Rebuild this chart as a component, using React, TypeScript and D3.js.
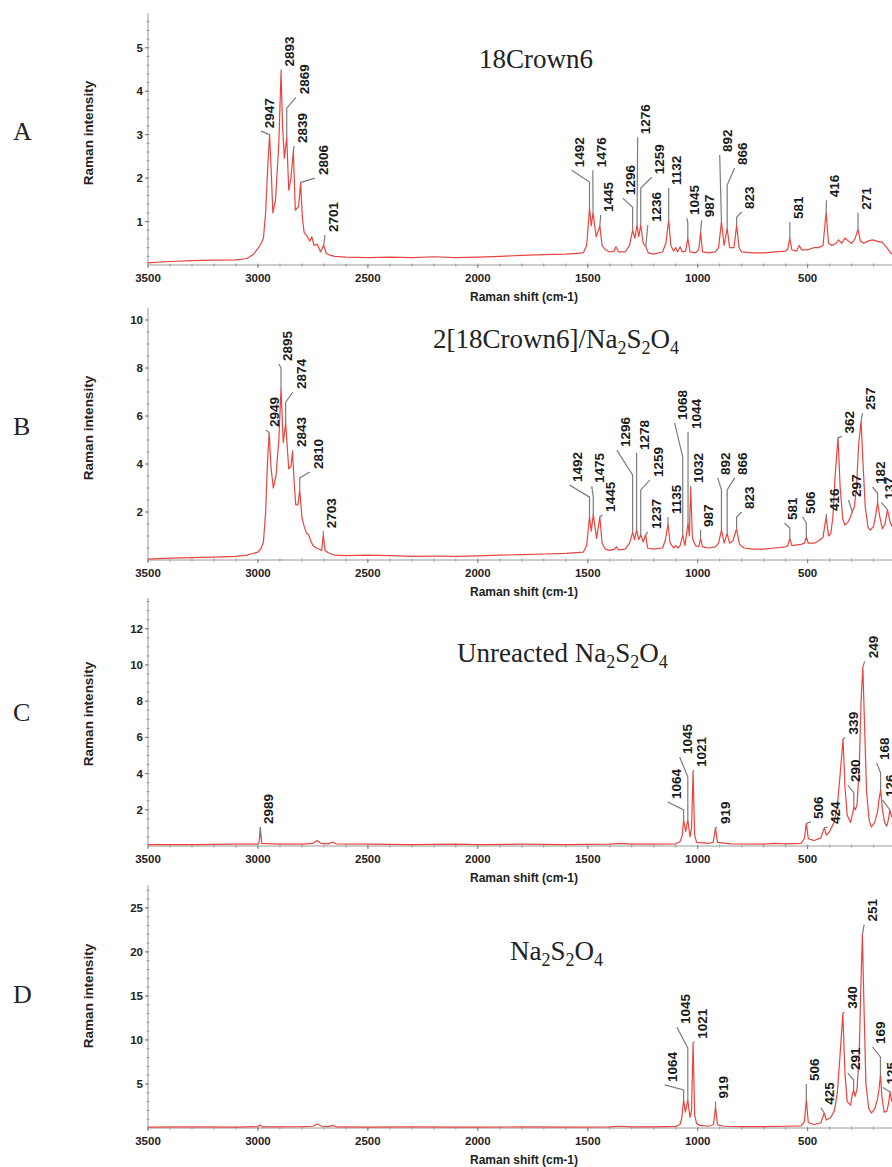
import * as d3 from "d3";

const W = 892;
const H = 1167;
const RED = "#e8453f";
const LEAD = "#7c7c7c";
const AXIS = "#9a9a9a";
const SANS = "'Liberation Sans', Arial, sans-serif";
const SERIF = "'Liberation Serif', 'Times New Roman', serif";

const xTicks = [3500, 3000, 2500, 2000, 1500, 1000, 500];

// spectra: [wavenumber, intensity]
const specA: [number, number][] = [
  [3500, 0.05], [3400, 0.08], [3300, 0.1], [3200, 0.11], [3100, 0.12], [3050, 0.15], [3020, 0.25], [3000, 0.38],
  [2985, 0.5], [2975, 0.62], [2965, 1.2], [2955, 2.3], [2947, 3.0], [2940, 2.2], [2932, 1.2], [2920, 1.5],
  [2905, 2.8], [2895, 4.44], [2888, 3.2], [2880, 2.46], [2869, 2.94], [2860, 1.72], [2850, 2.0], [2839, 2.62],
  [2830, 1.26], [2815, 1.35], [2806, 1.9], [2798, 1.1], [2790, 0.75], [2775, 0.65], [2764, 0.55], [2755, 0.65],
  [2745, 0.45], [2730, 0.48], [2715, 0.3], [2701, 0.46], [2690, 0.27], [2670, 0.22], [2650, 0.2], [2600, 0.18],
  [2500, 0.17], [2400, 0.18], [2300, 0.17], [2200, 0.19], [2100, 0.17], [2000, 0.18], [1900, 0.2], [1800, 0.22],
  [1700, 0.24], [1600, 0.25], [1520, 0.28], [1505, 0.45], [1492, 1.31], [1484, 0.9], [1476, 1.2], [1462, 0.65],
  [1445, 0.9], [1435, 0.45], [1420, 0.35], [1400, 0.3], [1380, 0.32], [1372, 0.42], [1360, 0.3], [1330, 0.3],
  [1310, 0.45], [1296, 0.8], [1286, 0.62], [1276, 0.92], [1268, 0.65], [1259, 0.92], [1248, 0.5], [1236, 0.42],
  [1225, 0.28], [1200, 0.25], [1160, 0.3], [1145, 0.5], [1132, 1.03], [1122, 0.45], [1110, 0.32], [1100, 0.4],
  [1092, 0.3], [1080, 0.42], [1070, 0.3], [1055, 0.32], [1045, 0.62], [1035, 0.3], [1010, 0.28], [995, 0.35],
  [987, 0.75], [978, 0.3], [950, 0.28], [920, 0.3], [905, 0.4], [892, 1.0], [880, 0.45], [866, 0.85],
  [855, 0.4], [835, 0.4], [823, 0.92], [812, 0.4], [800, 0.3], [750, 0.28], [700, 0.28], [650, 0.3],
  [600, 0.32], [590, 0.38], [581, 0.62], [572, 0.35], [550, 0.32], [538, 0.45], [528, 0.35], [500, 0.35],
  [470, 0.4], [450, 0.4], [430, 0.45], [416, 1.22], [405, 0.5], [390, 0.45], [370, 0.5], [360, 0.58],
  [345, 0.5], [330, 0.62], [315, 0.55], [300, 0.5], [285, 0.6], [271, 0.82], [260, 0.55], [245, 0.5],
  [225, 0.55], [205, 0.58], [185, 0.55], [160, 0.52], [140, 0.4], [118, 0.25],
];

const specB: [number, number][] = [
  [3500, 0.04], [3400, 0.08], [3300, 0.1], [3200, 0.12], [3100, 0.15], [3050, 0.2], [3020, 0.28], [3000, 0.33],
  [2985, 0.5], [2975, 0.75], [2965, 2.0], [2957, 4.0], [2949, 5.3], [2940, 3.8], [2930, 3.0], [2918, 3.5],
  [2905, 5.0], [2895, 7.15], [2885, 4.9], [2874, 5.7], [2860, 3.8], [2850, 3.9], [2843, 4.5], [2835, 3.2],
  [2828, 2.3], [2818, 2.3], [2810, 2.9], [2800, 1.8], [2790, 1.4], [2778, 1.1], [2770, 1.05], [2760, 0.8],
  [2750, 0.6], [2735, 0.5], [2720, 0.45], [2710, 0.4], [2703, 1.05], [2695, 0.4], [2680, 0.3], [2650, 0.2],
  [2600, 0.18], [2500, 0.2], [2400, 0.18], [2300, 0.15], [2200, 0.16], [2100, 0.15], [2000, 0.17], [1900, 0.2],
  [1800, 0.22], [1700, 0.25], [1600, 0.28], [1520, 0.33], [1505, 0.6], [1492, 1.8], [1484, 1.2], [1475, 1.9],
  [1460, 0.9], [1445, 1.8], [1435, 0.7], [1420, 0.45], [1400, 0.4], [1378, 0.45], [1370, 0.55], [1360, 0.42],
  [1330, 0.45], [1310, 0.7], [1296, 1.15], [1287, 0.85], [1278, 1.25], [1268, 0.85], [1259, 1.05], [1248, 0.75],
  [1237, 1.05], [1228, 0.5], [1200, 0.45], [1160, 0.5], [1148, 0.8], [1135, 1.5], [1125, 0.7], [1110, 0.5],
  [1100, 0.6], [1090, 0.5], [1080, 0.6], [1068, 1.05], [1058, 0.6], [1044, 1.55], [1038, 1.0], [1032, 3.0],
  [1024, 0.9], [1010, 0.6], [995, 0.55], [987, 0.9], [978, 0.55], [950, 0.5], [920, 0.55], [905, 0.7],
  [892, 1.25], [880, 0.7], [866, 1.1], [855, 0.7], [840, 0.8], [823, 1.3], [810, 0.65], [790, 0.5],
  [750, 0.45], [700, 0.45], [650, 0.5], [600, 0.55], [590, 0.6], [581, 0.9], [572, 0.6], [530, 0.65],
  [515, 0.7], [506, 0.95], [497, 0.7], [470, 0.7], [450, 0.8], [430, 0.95], [416, 1.8], [405, 1.0],
  [395, 1.1], [385, 1.8], [375, 3.5], [362, 5.1], [352, 3.0], [340, 1.7], [330, 1.45], [315, 1.6],
  [305, 1.8], [297, 2.0], [288, 2.2], [278, 3.0], [268, 4.8], [257, 5.8], [248, 4.0], [238, 2.2],
  [225, 1.35], [215, 1.25], [200, 1.4], [190, 1.9], [182, 2.4], [172, 1.8], [160, 1.3], [148, 1.5],
  [137, 2.1], [128, 1.7], [118, 1.4],
];

const specC: [number, number][] = [
  [3500, 0.08], [3300, 0.08], [3100, 0.1], [3000, 0.1], [2995, 0.2], [2989, 1.0], [2983, 0.15], [2900, 0.1],
  [2800, 0.1], [2750, 0.15], [2730, 0.3], [2715, 0.15], [2680, 0.12], [2660, 0.22], [2645, 0.12], [2500, 0.1],
  [2300, 0.08], [2100, 0.1], [2000, 0.08], [1800, 0.1], [1600, 0.08], [1400, 0.1], [1350, 0.15], [1300, 0.1],
  [1200, 0.1], [1100, 0.12], [1080, 0.25], [1070, 0.6], [1064, 1.45], [1055, 0.8], [1045, 1.45], [1035, 0.5],
  [1028, 1.0], [1021, 4.1], [1014, 0.6], [1005, 0.2], [950, 0.15], [930, 0.2], [919, 1.0], [910, 0.2],
  [850, 0.12], [700, 0.1], [650, 0.15], [600, 0.12], [530, 0.15], [515, 0.4], [506, 1.25], [497, 0.4],
  [470, 0.3], [440, 0.45], [424, 1.0], [415, 0.6], [400, 0.8], [380, 1.3], [365, 2.2], [352, 4.0],
  [339, 5.9], [330, 3.2], [320, 1.7], [305, 1.3], [297, 1.7], [290, 2.15], [283, 2.0], [275, 2.3],
  [265, 4.5], [257, 8.0], [249, 9.9], [242, 7.0], [232, 3.0], [220, 1.4], [210, 1.05], [195, 1.3],
  [182, 1.9], [175, 2.6], [168, 3.1], [160, 2.0], [150, 1.3], [140, 1.1], [132, 1.5], [126, 2.0], [118, 1.6],
];

const specD: [number, number][] = [
  [3500, 0.1], [3300, 0.12], [3100, 0.1], [3000, 0.15], [2990, 0.35], [2980, 0.12], [2900, 0.12], [2800, 0.15],
  [2750, 0.2], [2730, 0.45], [2710, 0.2], [2680, 0.15], [2660, 0.3], [2640, 0.12], [2500, 0.1], [2300, 0.12],
  [2100, 0.1], [2000, 0.1], [1800, 0.12], [1600, 0.1], [1400, 0.12], [1350, 0.2], [1300, 0.12], [1200, 0.12],
  [1100, 0.18], [1080, 0.4], [1072, 1.2], [1064, 3.2], [1056, 1.8], [1045, 3.2], [1035, 1.2], [1028, 2.0],
  [1021, 9.65], [1014, 1.5], [1005, 0.5], [990, 0.3], [950, 0.2], [928, 0.4], [919, 2.4], [910, 0.35],
  [880, 0.2], [800, 0.15], [700, 0.15], [600, 0.2], [530, 0.25], [515, 0.7], [506, 3.2], [497, 0.6],
  [470, 0.4], [440, 0.6], [425, 1.7], [415, 0.9], [395, 1.2], [378, 2.0], [365, 4.0], [352, 8.5],
  [340, 13.0], [330, 6.0], [320, 3.0], [305, 2.6], [297, 3.8], [291, 4.3], [284, 3.6], [275, 4.5],
  [265, 9.0], [258, 16.0], [251, 22.0], [244, 14.0], [235, 5.0], [222, 2.2], [210, 1.7], [195, 2.2],
  [182, 3.3], [175, 4.5], [169, 6.0], [162, 3.5], [152, 1.8], [140, 1.9], [132, 2.8], [125, 4.1], [118, 3.0],
];

// peak labels: [label, wavenumber, peak intensity, knee intensity, leader end wavenumber, leader end intensity]
type Peak = [string, number, number, number, number, number];

const peaksA: Peak[] = [
  ["2947", 2947, 3.0, 3.0, 2986, 3.08], ["2893", 2893, 4.44, 4.44, 2895, 4.5],
  ["2869", 2869, 2.94, 3.61, 2827, 3.86], ["2839", 2839, 2.62, 2.62, 2836, 2.74],
  ["2806", 2806, 1.9, 1.9, 2741, 2.0], ["2701", 2701, 0.46, 0.46, 2695, 0.69],
  ["1492", 1492, 1.31, 1.91, 1573, 2.18], ["1476", 1476, 1.2, 1.2, 1477, 2.18],
  ["1445", 1445, 0.9, 0.9, 1441, 1.15], ["1296", 1296, 0.8, 1.33, 1341, 1.54],
  ["1276", 1276, 0.92, 0.92, 1273, 2.94], ["1259", 1259, 0.92, 1.77, 1209, 2.02],
  ["1236", 1236, 0.42, 0.42, 1227, 0.92], ["1132", 1132, 1.03, 1.03, 1132, 1.77],
  ["1045", 1045, 0.62, 0.97, 1050, 1.08], ["987", 987, 0.75, 0.75, 982, 1.03],
  ["892", 892, 1.0, 1.0, 900, 2.53], ["866", 866, 0.85, 1.84, 832, 2.23],
  ["823", 823, 0.92, 1.1, 800, 1.22], ["581", 581, 0.62, 0.62, 581, 0.99],
  ["416", 416, 1.22, 1.22, 414, 1.49], ["271", 271, 0.82, 0.82, 271, 1.2],
];

const peaksB: Peak[] = [
  ["2949", 2949, 5.3, 5.3, 2964, 5.42], ["2895", 2895, 7.15, 8.0, 2905, 8.17],
  ["2874", 2874, 5.7, 6.58, 2841, 7.0], ["2843", 2843, 4.5, 4.5, 2841, 4.58],
  ["2810", 2810, 2.9, 3.42, 2764, 3.67], ["2703", 2703, 1.05, 1.05, 2703, 1.2],
  ["1492", 1492, 1.8, 2.62, 1582, 3.12], ["1475", 1475, 1.9, 2.62, 1482, 3.08],
  ["1445", 1445, 1.8, 1.8, 1432, 1.88], ["1296", 1296, 1.15, 3.54, 1368, 4.58],
  ["1278", 1278, 1.25, 1.25, 1278, 4.46], ["1259", 1259, 1.05, 2.92, 1218, 3.33],
  ["1237", 1237, 1.05, 1.05, 1227, 1.17], ["1135", 1135, 1.5, 1.5, 1135, 1.79],
  ["1068", 1068, 1.05, 4.29, 1105, 5.71], ["1044", 1044, 1.55, 1.55, 1044, 5.33],
  ["1032", 1032, 3.0, 3.0, 1032, 3.08], ["987", 987, 0.9, 0.9, 987, 1.25],
  ["892", 892, 1.25, 2.92, 909, 3.42], ["866", 866, 1.1, 2.92, 832, 3.42],
  ["823", 823, 1.3, 1.79, 800, 2.0], ["581", 581, 0.9, 1.33, 605, 1.54],
  ["506", 506, 0.95, 1.54, 523, 1.79], ["416", 416, 1.8, 1.8, 414, 1.92],
  ["362", 362, 5.1, 5.1, 345, 5.15], ["297", 297, 2.0, 2.0, 314, 2.5],
  ["257", 257, 5.8, 5.8, 250, 6.12], ["182", 182, 2.4, 2.79, 205, 3.04],
  ["137", 137, 2.1, 2.1, 165, 2.4],
];

const peaksC: Peak[] = [
  ["2989", 2989, 0.45, 0.45, 2989, 1.05], ["1064", 1064, 1.45, 1.99, 1136, 2.43],
  ["1045", 1045, 1.45, 3.81, 1082, 4.92], ["1021", 1021, 4.1, 4.1, 1018, 4.2],
  ["919", 919, 1.0, 1.0, 913, 1.05], ["506", 506, 1.25, 1.25, 486, 1.33],
  ["424", 424, 1.0, 1.0, 409, 1.05], ["339", 339, 5.9, 5.9, 330, 6.0],
  ["290", 290, 2.15, 2.93, 318, 3.37], ["249", 249, 9.9, 9.9, 240, 10.2],
  ["168", 168, 3.1, 4.03, 186, 4.59], ["126", 126, 2.0, 2.0, 159, 2.54],
];

const peaksD: Peak[] = [
  ["1064", 1064, 3.2, 4.32, 1150, 4.89], ["1045", 1045, 3.2, 9.09, 1095, 11.48],
  ["1021", 1021, 9.65, 9.65, 1014, 9.8], ["919", 919, 2.4, 2.4, 919, 3.0],
  ["506", 506, 3.2, 3.2, 506, 5.0], ["425", 425, 1.7, 1.7, 440, 2.3],
  ["340", 340, 13.0, 13.0, 333, 13.2], ["291", 291, 4.3, 5.45, 318, 6.25],
  ["251", 251, 22.0, 22.0, 243, 23.1], ["169", 169, 6.0, 8.07, 205, 9.2],
  ["125", 125, 4.1, 4.1, 158, 4.6],
];

// titles as [text, subscript?] pieces
const titleA: [string, boolean][] = [["18Crown6", false]];
const titleB: [string, boolean][] = [["2[18Crown6]/Na", false], ["2", true], ["S", false], ["2", true], ["O", false], ["4", true]];
const titleC: [string, boolean][] = [["Unreacted Na", false], ["2", true], ["S", false], ["2", true], ["O", false], ["4", true]];
const titleD: [string, boolean][] = [["Na", false], ["2", true], ["S", false], ["2", true], ["O", false], ["4", true]];

const panels = [
  { letter: "A", title: titleA, titleX: 479, titleY: 68, axisY: 265, topY: 13, yMax: 5.8, yTicks: [1, 2, 3, 4, 5], minor: 0.2, data: specA, peaks: peaksA },
  { letter: "B", title: titleB, titleX: 433, titleY: 348, axisY: 560, topY: 308, yMax: 10.5, yTicks: [2, 4, 6, 8, 10], minor: 0.5, data: specB, peaks: peaksB },
  { letter: "C", title: titleC, titleX: 457, titleY: 662, axisY: 846, topY: 598, yMax: 13.7, yTicks: [2, 4, 6, 8, 10, 12], minor: 0.5, data: specC, peaks: peaksC },
  { letter: "D", title: titleD, titleX: 510, titleY: 960, axisY: 1128, topY: 885, yMax: 27.6, yTicks: [5, 10, 15, 20, 25], minor: 1, data: specD, peaks: peaksD },
];

const x = d3.scaleLinear().domain([3500, 80]).range([148, 900]);
const xMinor = d3.range(3500, 0, -100);

const Panel = ({ p }: { p: (typeof panels)[number] }) => {
  const y = d3.scaleLinear().domain([0, p.yMax]).range([p.axisY, p.topY]);
  const line = d3
    .line<[number, number]>()
    .x((d) => x(d[0]))
    .y((d) => y(d[1]))
    .curve(d3.curveLinear);
  const yMinor = d3.range(p.minor, p.yMax, p.minor);

  return (
    <g>
      {/* panel letter */}
      <text x={13} y={p.axisY - 125} fontFamily={SERIF} fontSize={26} fill="#222">
        {p.letter}
      </text>
      {/* title */}
      <text x={p.titleX} y={p.titleY} fontFamily={SERIF} fontSize={27} fill="#222">
        {p.title.map(([t, sub], i) => {
          const prevSub = i > 0 && p.title[i - 1][1];
          const dy = sub ? 6 : prevSub ? -6 : 0;
          return (
            <tspan key={i} dy={dy} fontSize={sub ? 18 : 27}>
              {t}
            </tspan>
          );
        })}
      </text>

      {/* y axis */}
      <line x1={148} x2={148} y1={p.topY} y2={p.axisY} stroke={AXIS} strokeWidth={1} />
      {yMinor.map((v) => (
        <line key={"m" + v} x1={146.5} x2={149.5} y1={y(v)} y2={y(v)} stroke={AXIS} strokeWidth={1} />
      ))}
      {p.yTicks.map((v) => (
        <g key={v}>
          <line x1={145} x2={148} y1={y(v)} y2={y(v)} stroke="#777" strokeWidth={1} />
          <text x={143} y={y(v)} dy="0.35em" textAnchor="end" fontFamily={SANS} fontWeight="bold" fontSize={11.5} fill="#222">
            {v}
          </text>
        </g>
      ))}
      <text
        transform={`translate(88,${p.axisY - 132}) rotate(-90)`}
        dy="0.35em"
        textAnchor="middle"
        fontFamily={SANS}
        fontWeight="bold"
        fontSize={13.5}
        fill="#222"
      >
        Raman intensity
      </text>

      {/* x axis */}
      <line x1={148} x2={W} y1={p.axisY} y2={p.axisY} stroke={AXIS} strokeWidth={1} />
      {xMinor.map((v) => (
        <line key={"xm" + v} x1={x(v)} x2={x(v)} y1={p.axisY - 1.5} y2={p.axisY + 1.5} stroke={AXIS} strokeWidth={1} />
      ))}
      {xTicks.map((v) => (
        <g key={v}>
          <line x1={x(v)} x2={x(v)} y1={p.axisY} y2={p.axisY + 3} stroke="#777" strokeWidth={1} />
          <text x={x(v)} y={p.axisY + 17} textAnchor="middle" fontFamily={SANS} fontWeight="bold" fontSize={11.5} fill="#222">
            {v}
          </text>
        </g>
      ))}
      <text x={524} y={p.axisY + 36} textAnchor="middle" fontFamily={SANS} fontWeight="bold" fontSize={12} fill="#222">
        Raman shift (cm-1)
      </text>

      {/* spectrum */}
      <path d={line(p.data) ?? ""} fill="none" stroke={RED} strokeWidth={1.2} strokeLinejoin="round" />

      {/* peak labels */}
      {p.peaks.map(([label, wn, pk, knee, ew, ei], i) => {
        const px = x(wn);
        const ex = x(ew);
        const ey = y(ei);
        return (
          <g key={i}>
            <polyline
              points={`${px},${y(pk)} ${px},${y(knee)} ${ex},${ey}`}
              fill="none"
              stroke={LEAD}
              strokeWidth={1.2}
            />
            <text
              transform={`translate(${ex + 8},${ey - 3}) rotate(-90)`}
              dy="0.35em"
              fontFamily={SANS}
              fontWeight="bold"
              fontSize={13.5}
              fill="#1a1a1a"
            >
              {label}
            </text>
          </g>
        );
      })}
    </g>
  );
};

export default function App() {
  return (
    <svg
      width={W}
      height={H}
      viewBox={`0 0 ${W} ${H}`}
      style={{ position: "absolute", left: 0, top: 0, background: "#fff" }}
    >
      <rect width={W} height={H} fill="#fff" />
      {panels.map((p) => (
        <Panel key={p.letter} p={p} />
      ))}
    </svg>
  );
}
